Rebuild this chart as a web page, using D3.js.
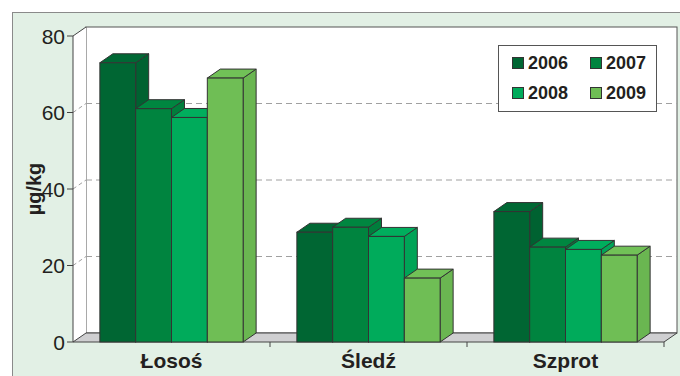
<!DOCTYPE html>
<html>
<head>
<meta charset="utf-8">
<script src="https://cdn.jsdelivr.net/npm/d3@7"></script>
<style>
  body { margin: 0; background: #fff; }
  svg { display: block; font-family: "Liberation Sans", Arial, sans-serif; }
</style>
</head>
<body>
<svg width="680" height="376"></svg>
<script>
// data
const categories = ["Łosoś", "Śledź", "Szprot"];
const years = ["2006", "2007", "2008", "2009"];
const losos = [73, 61, 58.7, 69];
const sledz = [28.7, 30, 27.6, 16.7];
const szprot = [34.1, 24.8, 24.2, 22.7];
const yTicks = [0, 20, 40, 60, 80];
const colors = ["#006633", "#00843f", "#00ab5b", "#6fbe55"];

const series = [losos, sledz, szprot];

const svg = d3.select("svg");
const dx = 13, dy = -9; // depth of the 3d box

// outer frame
svg.append("rect")
  .attr("x", 12.5).attr("y", 12.5)
  .attr("width", 700).attr("height", 400)
  .attr("fill", "#e2f0e5")
  .attr("stroke", "#8a8a8a");

const x = d3.scaleBand().domain(categories).range([73, 664]);
const xi = d3.scaleBand().domain(years).range([0, x.bandwidth()])
  .paddingInner(0).paddingOuter(0.75);
const y = d3.scaleLinear().domain([0, 80]).range([342, 36]);

const x0 = x.range()[0], x1 = x.range()[1];
const yb = y(0), yt = y(80);

// back wall
svg.append("rect")
  .attr("x", x0 + dx).attr("y", yt + dy)
  .attr("width", x1 - x0).attr("height", yb - yt)
  .attr("fill", "#fff").attr("stroke", "#555");

// left wall
svg.append("path")
  .attr("d", `M${x0},${yt}L${x0 + dx},${yt + dy}L${x0 + dx},${yb + dy}L${x0},${yb}Z`)
  .attr("fill", "#fff").attr("stroke", "none");

// gridlines
yTicks.filter(v => v > 0 && v < 80).forEach(v => {
  svg.append("line")
    .attr("x1", x0 + dx).attr("x2", x1 + dx)
    .attr("y1", y(v) + dy).attr("y2", y(v) + dy)
    .attr("stroke", "#a0a0a0").attr("stroke-dasharray", "6,4");
  svg.append("line")
    .attr("x1", x0).attr("x2", x0 + dx)
    .attr("y1", y(v)).attr("y2", y(v) + dy)
    .attr("stroke", "#a0a0a0").attr("stroke-dasharray", "4,3");
});

// floor
svg.append("path")
  .attr("d", `M${x0},${yb}L${x1},${yb}L${x1 + dx},${yb + dy}L${x0 + dx},${yb + dy}Z`)
  .attr("fill", "#cfcfd1").attr("stroke", "#444");

// left wall edges / y axis
svg.append("path")
  .attr("d", `M${x0},${yb}L${x0},${yt}L${x0 + dx},${yt + dy}`)
  .attr("fill", "none").attr("stroke", "#444");

// y ticks
const yAxis = svg.append("g");
yTicks.forEach(v => {
  yAxis.append("line")
    .attr("x1", x0 - 6).attr("x2", x0)
    .attr("y1", y(v)).attr("y2", y(v))
    .attr("stroke", "#444");
  yAxis.append("text")
    .attr("x", x0 - 8).attr("y", y(v))
    .attr("text-anchor", "end")
    .attr("dominant-baseline", "central")
    .attr("font-size", 21)
    .attr("fill", "#231f20")
    .text(v);
});

// y title
svg.append("text")
  .attr("transform", "translate(34," + y(40) + ")rotate(-90)")
  .attr("text-anchor", "middle")
  .attr("dominant-baseline", "central")
  .attr("font-size", 20).attr("font-weight", "bold")
  .attr("fill", "#231f20")
  .text("µg/kg");

// category ticks
x.domain().forEach((c, i) => {
  const xx = x(c) + x.bandwidth();
  svg.append("line")
    .attr("x1", xx).attr("x2", xx)
    .attr("y1", yb).attr("y2", yb + 5)
    .attr("stroke", "#444");
});

// bars
categories.forEach((c, ci) => {
  const g = svg.append("g");
  years.forEach((yr, yi) => {
    const v = series[ci][yi];
    const bx = x(c) + xi(yr), bw = xi.bandwidth();
    const top = y(v);
    const col = colors[yi];
    g.append("path") // side
      .attr("d", `M${bx + bw},${yb}L${bx + bw + dx},${yb + dy}L${bx + bw + dx},${top + dy}L${bx + bw},${top}Z`)
      .attr("fill", d3.color(col).darker(0.12)).attr("stroke", "#333").attr("stroke-linejoin", "round");
    g.append("path") // top
      .attr("d", `M${bx},${top}L${bx + dx},${top + dy}L${bx + bw + dx},${top + dy}L${bx + bw},${top}Z`)
      .attr("fill", d3.color(col).brighter(0.05)).attr("stroke", "#333").attr("stroke-linejoin", "round");
    g.append("rect") // front
      .attr("x", bx).attr("y", top)
      .attr("width", bw).attr("height", yb - top)
      .attr("fill", col).attr("stroke", "#333");
  });
});

// category labels
svg.append("g").selectAll("text")
  .data(categories)
  .join("text")
  .attr("x", d => x(d) + x.bandwidth() / 2)
  .attr("y", 368)
  .attr("text-anchor", "middle")
  .attr("font-size", 21).attr("font-weight", "bold")
  .attr("fill", "#231f20")
  .text(d => d);

// legend
const legend = svg.append("g");
legend.append("rect")
  .attr("x", 498.5).attr("y", 45.5)
  .attr("width", 158).attr("height", 66)
  .attr("fill", "#fff").attr("stroke", "#555");
years.forEach((yr, i) => {
  const lx = 512 + (i % 2) * 78;
  const ly = 63 + Math.floor(i / 2) * 30;
  legend.append("rect")
    .attr("x", lx + 0.5).attr("y", ly - 5.5)
    .attr("width", 11).attr("height", 11)
    .attr("fill", colors[i]).attr("stroke", "#333");
  legend.append("text")
    .attr("x", lx + 16).attr("y", ly)
    .attr("dominant-baseline", "central")
    .attr("font-size", 18).attr("font-weight", "bold")
    .attr("fill", "#231f20")
    .text(yr);
});
</script>
</body>
</html>
